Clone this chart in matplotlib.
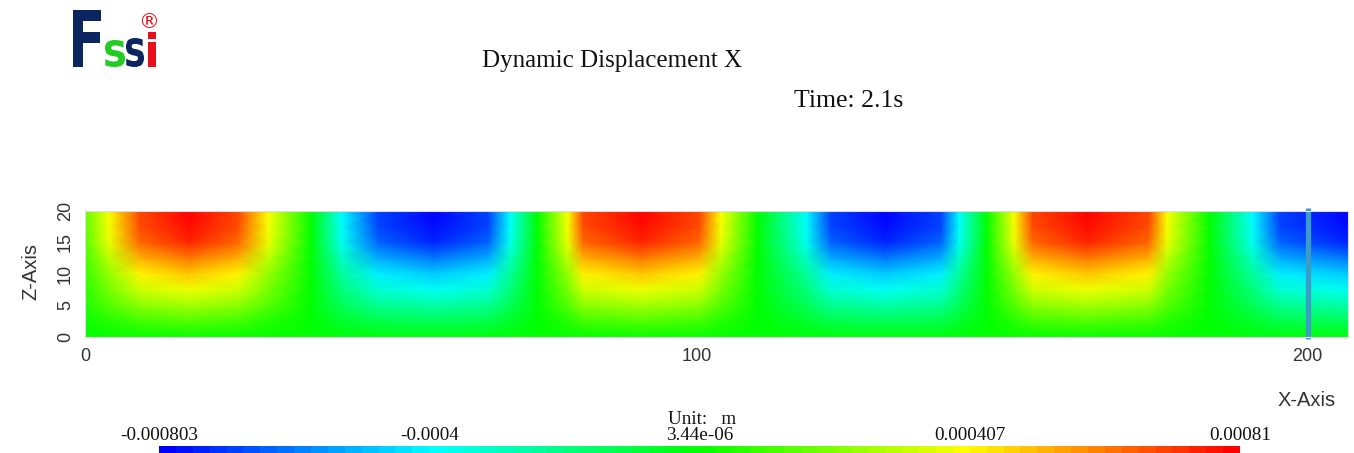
import numpy as np
import matplotlib
matplotlib.use("Agg")
import matplotlib.pyplot as plt
from matplotlib.colors import LinearSegmentedColormap, Normalize
from matplotlib.cm import ScalarMappable
from matplotlib.textpath import TextPath
from matplotlib.patches import PathPatch
from matplotlib.font_manager import FontProperties
from matplotlib.transforms import Affine2D, IdentityTransform

# sample positions (m)
x_pos = [0, 4, 9, 17, 25, 30, 37, 42, 48, 57, 66, 69.5, 74, 79, 81.5, 91, 100.5, 104,
         110, 118, 122, 131, 140, 143, 147.5, 152, 155, 164, 174, 177, 184, 191, 195.5, 206.6]
z_pos = [0, 2.5, 5, 7.5, 10, 12.5, 15, 17.5, 20]

# displacement in 1e-4 m, one row per depth level
disp_z0 = [0.0, 0.1, 0.1, 0.2, 0.1, 0.1, 0.0, -0.1, -0.1, -0.2, -0.1, -0.1, 0.0, 0.1, 0.1, 0.2, 0.1,
           0.1, 0.0, -0.1, -0.1, -0.2, -0.1, -0.1, 0.0, 0.1, 0.1, 0.2, 0.1, 0.1, 0.0, -0.1, -0.1, -0.2]
disp_z2_5 = [0.2, 0.6, 1.1, 1.3, 1.1, 0.6, 0.0, -0.6, -1.1, -1.3, -1.1, -0.6, 0.0, 0.6, 1.1, 1.3, 1.1,
             0.6, 0.0, -0.6, -1.1, -1.3, -1.1, -0.6, 0.0, 0.6, 1.1, 1.3, 1.1, 0.6, 0.0, -0.6, -1.1, -1.3]
disp_z5 = [0.5, 1.3, 2.2, 2.6, 2.2, 1.3, 0.0, -1.3, -2.2, -2.6, -2.2, -1.3, 0.0, 1.3, 2.2, 2.6, 2.2,
           1.3, 0.0, -1.3, -2.2, -2.6, -2.2, -1.3, 0.0, 1.3, 2.2, 2.6, 2.2, 1.3, 0.0, -1.3, -2.2, -2.6]
disp_z7_5 = [0.7, 1.9, 3.3, 3.8, 3.3, 1.9, 0.0, -1.9, -3.3, -3.8, -3.3, -1.9, 0.0, 1.9, 3.3, 3.8, 3.3,
             1.9, 0.0, -1.9, -3.3, -3.8, -3.3, -1.9, 0.0, 1.9, 3.3, 3.8, 3.3, 1.9, 0.0, -1.9, -3.3, -3.8]
disp_z10 = [0.9, 2.4, 4.2, 4.9, 4.2, 2.4, 0.0, -2.4, -4.2, -4.8, -4.2, -2.4, 0.0, 2.4, 4.2, 4.9, 4.2,
            2.4, 0.0, -2.4, -4.2, -4.8, -4.2, -2.4, 0.0, 2.4, 4.2, 4.9, 4.2, 2.4, 0.0, -2.4, -4.2, -4.8]
disp_z12_5 = [1.1, 3.0, 5.3, 6.2, 5.3, 3.0, 0.0, -3.0, -5.3, -6.1, -5.3, -3.0, 0.0, 3.0, 5.3, 6.2, 5.3,
              3.0, 0.0, -3.0, -5.3, -6.1, -5.3, -3.0, 0.0, 3.0, 5.3, 6.2, 5.3, 3.0, 0.0, -3.0, -5.3, -6.1]
disp_z15 = [1.4, 3.7, 6.4, 7.5, 6.4, 3.7, 0.0, -3.7, -6.4, -7.4, -6.4, -3.7, 0.0, 3.7, 6.4, 7.5, 6.4,
            3.7, 0.0, -3.7, -6.4, -7.4, -6.4, -3.7, 0.0, 3.7, 6.4, 7.5, 6.4, 3.7, 0.0, -3.7, -6.4, -7.4]
disp_z17_5 = [1.5, 3.9, 6.9, 7.9, 6.9, 3.9, 0.0, -3.9, -6.9, -7.8, -6.9, -3.9, 0.0, 3.9, 6.9, 7.9, 6.9,
              3.9, 0.0, -3.9, -6.9, -7.8, -6.9, -3.9, 0.0, 3.9, 6.9, 7.9, 6.9, 3.9, 0.0, -3.9, -6.9, -7.8]
disp_z20 = [1.5, 4.0, 7.0, 8.1, 7.0, 4.0, 0.0, -4.0, -7.0, -8.0, -7.0, -4.0, 0.0, 4.0, 7.0, 8.1, 7.0,
            4.0, 0.0, -4.0, -7.0, -8.0, -7.0, -4.0, 0.0, 4.0, 7.0, 8.1, 7.0, 4.0, 0.0, -4.0, -7.0, -8.0]

vmin, vmax = -0.000803, 0.00081
cbar_ticks = ["-0.000803", "-0.0004", "3.44e-06", "0.000407", "0.00081"]
x_ticks = [0, 100, 200]
z_ticks = [0, 5, 10, 15, 20]
marker_x = 200

W, H = 1354, 453


def fx(p):
    return p / W


def fy(p):
    return 1 - p / H


cmap = LinearSegmentedColormap.from_list(
    "rainbow5", ["#0000ff", "#00ffff", "#00ff00", "#ffff00", "#ff0000"])

fig = plt.figure(figsize=(W / 100, H / 100), dpi=100)

ax = fig.add_axes([fx(85), fy(337), (1348 - 85) / W, (337 - 211) / H])
field = np.array([disp_z0, disp_z2_5, disp_z5, disp_z7_5, disp_z10,
                  disp_z12_5, disp_z15, disp_z17_5, disp_z20]) * 1e-4
X, Z = np.meshgrid(x_pos, z_pos)
ax.pcolormesh(X, Z, field, shading="gouraud", cmap=cmap, vmin=vmin, vmax=vmax)
ax.set_xlim(0, 206.6)
ax.set_ylim(0, 20)

ax.plot([marker_x, marker_x], [-0.3, 20.5], color="#3d9cc6", lw=3.8,
        solid_capstyle="butt", clip_on=False)

tick_font = dict(family="Liberation Sans", size=13, color="#333333")
ax.set_xticks(x_ticks)
ax.set_xticklabels([str(t) for t in x_ticks], **tick_font)
ax.set_yticks(z_ticks)
ax.set_yticklabels([str(t) for t in z_ticks], rotation=90, va="center", **tick_font)
ax.tick_params(length=0, pad=8)
for s in ax.spines.values():
    s.set_color("#dddddd")
    s.set_linewidth(0.8)

label_font = dict(family="Liberation Sans", size=14.5, color="#333333")
fig.text(fx(31), fy(272), "Z-Axis", rotation=90, ha="center", va="center", **label_font)
fig.text(fx(1307), fy(400), "X-Axis", ha="center", va="center", **label_font)

# titles
fig.text(fx(612), fy(61), "Dynamic Displacement X", ha="center", va="center",
         family="Liberation Serif", size=18, color="#111111")
fig.text(fx(849), fy(101), "Time: 2.1s", ha="center", va="center",
         family="Liberation Serif", size=18.5, color="#111111")

# colour bar
cax = fig.add_axes([fx(159), 0, (1240 - 159) / W, 7 / H])
sm = ScalarMappable(norm=Normalize(vmin, vmax), cmap=cmap.resampled(64))
cb = fig.colorbar(sm, cax=cax, orientation="horizontal")
cb.set_ticks([])
cb.outline.set_visible(False)
for i, lab in enumerate(cbar_ticks):
    fig.text(fx(159 + i * (1240 - 159) / 4), fy(436), lab, ha="center", va="center",
             family="Liberation Serif", size=13.8, color="#111111")
fig.text(fx(702), fy(420), "Unit:   m", ha="center", va="center",
         family="Liberation Serif", size=13.8, color="#111111")


# logo, each glyph fitted into the box it takes in the picture
def logo_char(ch, x0, y0, x1, y1, color):
    tp = TextPath((0, 0), ch, size=100, prop=FontProperties(family="DejaVu Sans", weight="bold"))
    bb = tp.get_extents()
    tr = (Affine2D().translate(-bb.x0, -bb.y0)
          .scale((x1 - x0) / bb.width, (y1 - y0) / bb.height)
          .translate(x0, H - y1))
    fig.add_artist(PathPatch(tr.transform_path(tp), facecolor=color, lw=0,
                             transform=IdentityTransform()))


logo_char("F", 73, 10, 101, 67, "#0b2560")
logo_char("s", 105, 40, 125, 67, "#22cc22")
logo_char("s", 126, 38, 144, 67, "#0b2560")
logo_char("i", 148, 32, 156, 67, "#e8101a")
fig.text(fx(149), fy(22), "®", size=15, color="#e8101a", ha="center", va="center")

fig.savefig("out.png", dpi=100)
plt.close()
